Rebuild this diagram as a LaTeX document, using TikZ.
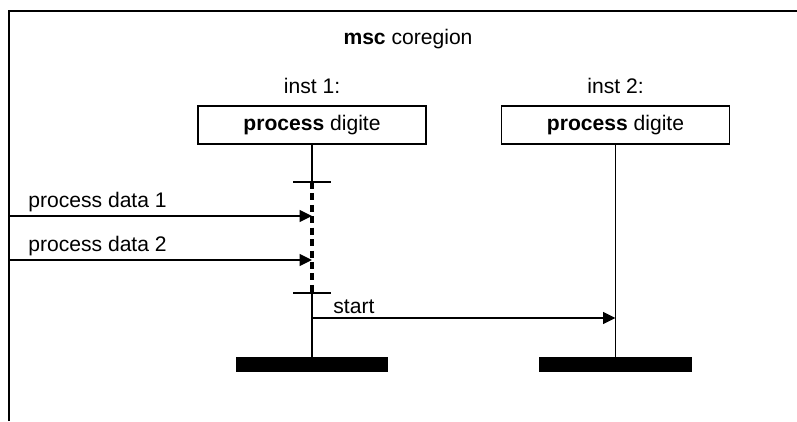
\documentclass[tikz,border=0pt]{standalone}
\usepackage{fontspec}
\setmainfont{Liberation Sans}
\usetikzlibrary{positioning,arrows.meta}

\begin{document}
\begin{tikzpicture}[font=\fontsize{12}{14}\selectfont,
		inst/.style={draw, line width=0.7pt, minimum width=4.56cm, minimum height=0.76cm, inner sep=0pt},
		life/.style={line width=1.1pt},
		coreg/.style={line width=2pt, dash pattern=on 4pt off 2.5pt},
		msg/.style={line width=0.9pt, -{Triangle[length=0.25cm,width=0.24cm]}},
		endbar/.style={fill=black, minimum width=3.05cm, minimum height=0.3cm, inner sep=0pt},
		lbl/.style={inner sep=2pt}]
			\useasboundingbox (0,0) rectangle (15.94,8.42);
			\draw[line width=0.7pt] (0.18,0) -- (0.18,8.2) -- (15.94,8.2);
			\node[anchor=base] (title) at (8.16,7.54) {\textbf{msc} coregion};
			
			\node[inst] (proc1) at (6.24,5.92) {\textbf{process} digite};
			\node[inst] (proc2) at (12.31,5.92) {\textbf{process} digite};
			\node[above=0.1cm of proc1] (inst1) {inst 1:};
			\node[above=0.1cm of proc2] (inst2) {inst 2:};
			
			\node[endbar] (end1) at (6.24,1.13) {};
			\node[endbar] (end2) at (12.31,1.13) {};
			
			% coregion on inst 1
			\coordinate (co1) at (6.24,4.78);
			\coordinate (co2) at (6.24,2.56);
			\draw[life] (proc1.south) -- (co1);
			\draw[coreg] (co1) -- (co2);
			\draw[life] (co2) -- (end1.north);
			\draw[life] ([xshift=-0.38cm]co1) -- ([xshift=0.38cm]co1);
			\draw[life] ([xshift=-0.38cm]co2) -- ([xshift=0.38cm]co2);
			\draw[life] (proc2.south) -- (end2.north);
			
			% messages
			\coordinate (env1) at (0.18,4.1);
			\coordinate (env2) at (0.18,3.22);
			\coordinate (st) at (6.24,2.06);
			\draw[msg] (env1) -- (env1 -| proc1.south);
			\draw[msg] (env2) -- (env2 -| proc1.south);
			\draw[msg] (st) -- (st -| proc2.south);
			\node[lbl, above right=0pt and 0.31cm of env1] (data1) {process data 1};
			\node[lbl, above right=0pt and 0.31cm of env2] (data2) {process data 2};
			\node[lbl, above right=0pt and 0.35cm of st] (start) {start};
		\end{tikzpicture}
\end{document}
